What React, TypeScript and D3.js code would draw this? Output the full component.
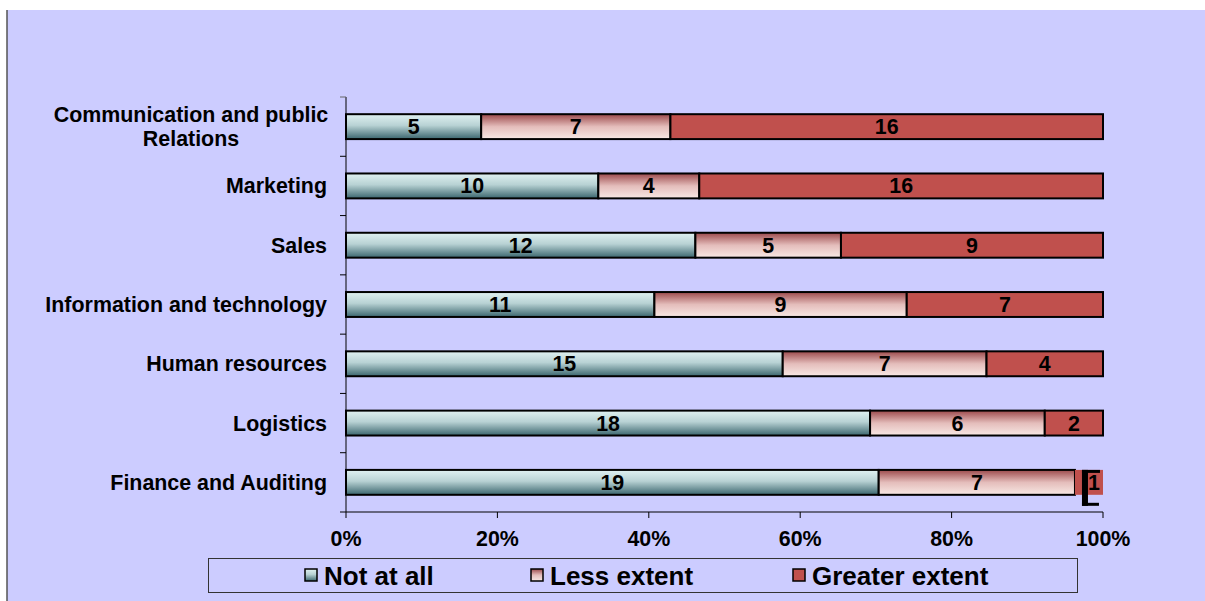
import React from "react";
import * as d3 from "d3";

const categories = [
  "Communication and public Relations",
  "Marketing",
  "Sales",
  "Information and technology",
  "Human resources",
  "Logistics",
  "Finance and Auditing",
];
const notAtAll = [5, 10, 12, 11, 15, 18, 19];
const lessExtent = [7, 4, 5, 9, 7, 6, 7];
const greaterExtent = [16, 16, 9, 7, 4, 2, 1];
const seriesNames = ["Not at all", "Less extent", "Greater extent"];
const xTicks = [0, 0.2, 0.4, 0.6, 0.8, 1];

const categoryLines: Record<string, string[]> = {
  "Communication and public Relations": ["Communication and public", "Relations"],
};

const W = 1205;
const H = 601;
const left = 346;
const right = 1103;
const top = 97;
const bottom = 512;
const FONT = "'Liberation Sans', Arial, sans-serif";
const FS = 21.4;

export default function App() {
  const x = d3.scaleLinear().domain([0, 1]).range([left, right]);
  const y = d3.scaleBand<string>().domain(categories).range([top, bottom]).paddingInner(0.58).paddingOuter(0.29);
  const outer = d3.scaleBand<string>().domain(categories).range([top, bottom]);

  const rows = categories.map((c, i) => {
    const vals = [notAtAll[i], lessExtent[i], greaterExtent[i]];
    const total = d3.sum(vals);
    let acc = 0;
    const segs = vals.map((v, k) => {
      const x0 = acc / total;
      acc += v;
      return { k, v, x0, x1: acc / total };
    });
    return { c, segs };
  });

  const fills = ["url(#gNot)", "url(#gLess)", "#c0504d"];
  const bh = y.bandwidth();

  return (
    <svg width={W} height={H} style={{ position: "absolute", left: 0, top: 0, display: "block" }}>
      <defs>
        <linearGradient id="gNot" x1="0" y1="0" x2="0" y2="1">
          <stop offset="0" stopColor="#e0f1f1" />
          <stop offset="0.45" stopColor="#b8d2d4" />
          <stop offset="1" stopColor="#3b666e" />
        </linearGradient>
        <linearGradient id="gLess" x1="0" y1="0" x2="0" y2="1">
          <stop offset="0" stopColor="#9c4a4c" />
          <stop offset="0.5" stopColor="#e4bdbb" />
          <stop offset="1" stopColor="#f8e8e4" />
        </linearGradient>
      </defs>
      <rect x={0} y={0} width={W} height={H} fill="#ffffff" />
      <rect x={7} y={10} width={W - 7} height={H - 10} fill="#ccccff" />
      <line x1={7} y1={10} x2={7} y2={H} stroke="#555" strokeWidth={1.5} />

      {/* category axis */}
      <line x1={left} y1={top} x2={left} y2={bottom} stroke="#000" strokeWidth={1} />
      {categories.map((c, i) => (
        <line key={"t" + c} x1={left - 6} x2={left} y1={outer(c)!} y2={outer(c)!} stroke={i === 0 ? "#666" : "#000"} />
      ))}
      <line x1={left - 6} x2={left} y1={bottom} y2={bottom} stroke="#000" />

      {/* category labels */}
      {categories.map((c) => {
        const lines = categoryLines[c] || [c];
        const cy = y(c)! + bh / 2;
        const lh = 24;
        return (
          <text key={"l" + c} fontFamily={FONT} fontWeight="bold" fontSize={FS} fill="#000">
            {lines.map((ln, j) => (
              <tspan
                key={j}
                x={lines.length > 1 ? 191 : 327}
                textAnchor={lines.length > 1 ? "middle" : "end"}
                y={cy + (j - (lines.length - 1) / 2) * lh + 7.5}
              >
                {ln}
              </tspan>
            ))}
          </text>
        );
      })}

      {/* bars */}
      {rows.map((r) =>
        r.segs.map((s) => {
          const bx = x(s.x0);
          const bw = x(s.x1) - x(s.x0);
          const by = y(r.c)!;
          const narrow = bw < 35;
          return (
            <g key={r.c + s.k}>
              <rect
                x={bx}
                y={by}
                width={bw}
                height={bh}
                fill={fills[s.k]}
                stroke={narrow ? "none" : "#000"}
                strokeWidth={2}
              />
              {narrow ? (
                <g>
                  <rect x={bx + 7} y={by} width={6} height={bh + 11} fill="#000" />
                  <rect x={bx + 7} y={by} width={18} height={3} fill="#000" />
                  <rect x={bx + 7} y={by + bh + 8} width={17} height={3} fill="#000" />
                  <text
                    x={bx + bw / 2 + 5}
                    y={by + bh / 2 + 8}
                    textAnchor="middle"
                    fontFamily={FONT}
                    fontWeight="bold"
                    fontSize={FS}
                    fill="#000"
                  >
                    {s.v}
                  </text>
                </g>
              ) : (
                <text
                  x={bx + bw / 2}
                  y={by + bh / 2 + 7.5}
                  textAnchor="middle"
                  fontFamily={FONT}
                  fontWeight="bold"
                  fontSize={FS}
                  fill="#000"
                >
                  {s.v}
                </text>
              )}
            </g>
          );
        })
      )}

      {/* value axis */}
      <line x1={left} y1={bottom} x2={right} y2={bottom} stroke="#000" />
      {xTicks.map((t) => (
        <g key={"x" + t}>
          <line x1={x(t)} x2={x(t)} y1={bottom} y2={bottom + 6} stroke="#000" />
          <text
            x={x(t)}
            y={bottom + 34}
            textAnchor="middle"
            fontFamily={FONT}
            fontWeight="bold"
            fontSize={FS}
            fill="#000"
          >
            {d3.format(".0%")(t)}
          </text>
        </g>
      ))}

      {/* legend */}
      <rect x={208.5} y={558.5} width={869} height={34} fill="none" stroke="#333" strokeWidth={1} />
      {seriesNames.map((n, k) => {
        const lx = [305, 531, 793][k];
        return (
          <g key={"lg" + n}>
            <rect x={lx} y={569} width={12} height={12} fill={fills[k]} stroke="#000" strokeWidth={1.5} />
            <text x={lx + 19} y={585} fontFamily={FONT} fontWeight="bold" fontSize={26} fill="#000">
              {n}
            </text>
          </g>
        );
      })}
    </svg>
  );
}
